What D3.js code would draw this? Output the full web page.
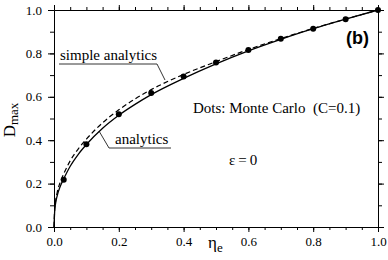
<!DOCTYPE html>
<style>
    body { margin: 0; background: #fff; }
    svg text { font-family: "Liberation Serif", "Times New Roman", Times, serif; fill: #000; }
    .axis path, .axis line { stroke: #000; stroke-width: 1px; }
</style>
<body>
<script src="https://d3js.org/d3.v7.min.js"></script>
<script>
    // curve values
    var etaVals     = [0, 0.002, 0.005, 0.01, 0.02, 0.03, 0.05, 0.075, 0.1, 0.15, 0.2, 0.25, 0.3, 0.4, 0.5, 0.6, 0.7, 0.8, 0.9, 1.0];
    var analytics   = [0, 0.07, 0.11, 0.145, 0.19, 0.222, 0.28, 0.335, 0.38, 0.455, 0.515, 0.565, 0.61, 0.685, 0.752, 0.812, 0.865, 0.914, 0.958, 1.0];
    var simpleAnal  = [0, 0.08, 0.12, 0.16, 0.21, 0.245, 0.305, 0.36, 0.405, 0.48, 0.54, 0.59, 0.633, 0.703, 0.762, 0.818, 0.868, 0.915, 0.958, 1.0];
    // Monte Carlo dots
    var mcEta = [0.03, 0.1, 0.2, 0.3, 0.4, 0.5, 0.6, 0.7, 0.8, 0.9, 1.0];
    var mcD   = [0.218, 0.381, 0.52, 0.618, 0.693, 0.758, 0.816, 0.868, 0.914, 0.957, 1.0];
    // ticks
    var xMajor = [0, 0.2, 0.4, 0.6, 0.8, 1.0];
    var xMinor = d3.range(0, 1.0001, 0.05);
    var yMajor = [0, 0.2, 0.4, 0.6, 0.8, 1.0];
    var yMinor = d3.range(0, 1.0001, 0.1);

    var W = 388, H = 260;
    var mLeft = 54, mRight = 378, mTop = 10, mBottom = 227;
    var serif = "'Liberation Serif', 'Times New Roman', Times, serif";

    var svg = d3.select("body").append("svg")
        .attr("width", W).attr("height", H)
        .attr("font-family", serif);

    var x = d3.scaleLinear().domain([0, 1]).range([mLeft, mRight]);
    var y = d3.scaleLinear().domain([0, 1]).range([mBottom, mTop]);
    var fmt = d3.format(".1f");

    // axes: major + minor on all four sides
    function addAxis(gen, tr, vals, size, labels) {
        var a = gen.tickValues(vals).tickSize(size).tickSizeOuter(0);
        a.tickFormat(labels ? fmt : "");
        var g = svg.append("g").attr("class", "axis")
            .attr("transform", tr).call(a);
        g.selectAll("text").style("font-family", serif).style("font-size", "13px");
        return g;
    }
    var gb = addAxis(d3.axisBottom(x), "translate(0," + mBottom + ")", xMajor, 5, true);
    gb.selectAll("text").attr("dy", "0.85em");
    addAxis(d3.axisBottom(x), "translate(0," + mBottom + ")", xMinor, 3, false);
    addAxis(d3.axisTop(x), "translate(0," + mTop + ")", xMajor, 5, false);
    addAxis(d3.axisTop(x), "translate(0," + mTop + ")", xMinor, 3, false);
    var gl = addAxis(d3.axisLeft(y), "translate(" + mLeft + ",0)", yMajor, 6, true);
    gl.selectAll("text").attr("x", -12);
    addAxis(d3.axisLeft(y), "translate(" + mLeft + ",0)", yMinor, 4, false);
    addAxis(d3.axisRight(y), "translate(" + mRight + ",0)", yMajor, 6, false);
    addAxis(d3.axisRight(y), "translate(" + mRight + ",0)", yMinor, 4, false);

    // curves
    var line = d3.line().curve(d3.curveMonotoneX)
        .x(function(d) { return x(d[0]); })
        .y(function(d) { return y(d[1]); });

    svg.append("path")
        .datum(etaVals.map(function(e, i) { return [e, simpleAnal[i]]; }))
        .attr("d", line)
        .attr("fill", "none").attr("stroke", "#000")
        .attr("stroke-width", 1.2).attr("stroke-dasharray", "5,3");

    svg.append("path")
        .datum(etaVals.map(function(e, i) { return [e, analytics[i]]; }))
        .attr("d", line)
        .attr("fill", "none").attr("stroke", "#000")
        .attr("stroke-width", 1.3);

    svg.append("g").selectAll("circle")
        .data(mcEta.map(function(e, i) { return [e, mcD[i]]; }))
        .enter().append("circle")
        .attr("cx", function(d) { return x(d[0]); })
        .attr("cy", function(d) { return y(d[1]); })
        .attr("r", 3).attr("fill", "#000");

    // labels with leader lines
    svg.append("text").attr("x", 60).attr("y", 60).attr("font-size", 15).text("simple analytics");
    svg.append("polyline")
        .attr("points", [[59, 64], [157, 64], [165, 80]].join(" "))
        .attr("fill", "none").attr("stroke", "#000").attr("stroke-width", 0.8);

    svg.append("text").attr("x", 115).attr("y", 143.5).attr("font-size", 15).text("analytics");
    svg.append("polyline")
        .attr("points", [[171, 148], [109, 148], [99, 131]].join(" "))
        .attr("fill", "none").attr("stroke", "#000").attr("stroke-width", 0.8);

    svg.append("text").attr("x", 193).attr("y", 112.5).attr("font-size", 15)
        .text("Dots: Monte Carlo\u00a0\u00a0(C=0.1)");
    svg.append("text").attr("x", 229).attr("y", 165).attr("font-size", 15).text("\u03b5\u2009=\u20090");

    svg.append("text").attr("x", 346).attr("y", 43.5)
        .style("font-family", "'Liberation Sans', Arial, sans-serif")
        .style("font-weight", "bold").style("font-size", "18px").text("(b)");

    // axis titles
    var yl = svg.append("text")
        .attr("transform", "translate(15,120) rotate(-90)")
        .attr("text-anchor", "middle").attr("font-size", 17);
    yl.append("tspan").text("D");
    yl.append("tspan").attr("dy", 3).attr("font-size", 13).text("max");

    var xl = svg.append("text").attr("x", 208).attr("y", 248).attr("font-size", 17);
    xl.append("tspan").text("\u03b7");
    xl.append("tspan").attr("dy", 4).attr("font-size", 13).text("e");
</script>
</body>
